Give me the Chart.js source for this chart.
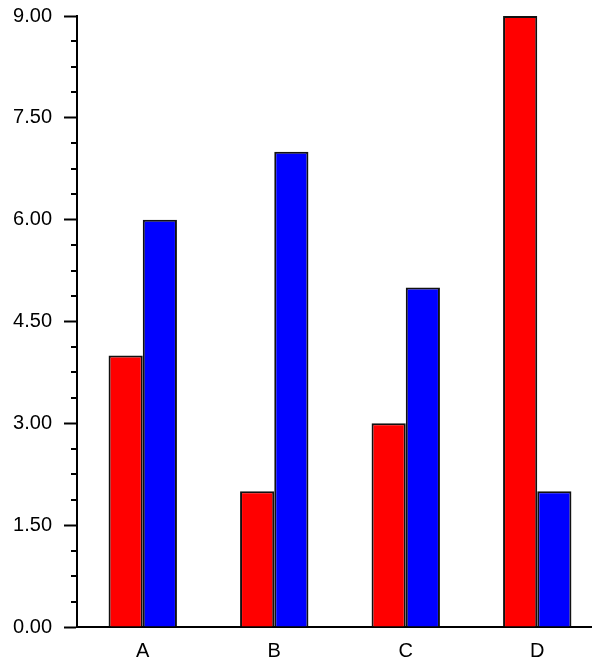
<!DOCTYPE html>
<html>
<head>
<meta charset="utf-8">
<script src="https://cdn.jsdelivr.net/npm/chart.js@4.4.0/dist/chart.umd.min.js"></script>
<style>
  html, body { margin: 0; padding: 0; overflow: hidden; background: #fff; }
  #wrap { width: 604px; height: 658px; }
</style>
</head>
<body>
<div id="wrap"><canvas id="barChart" width="604" height="658"></canvas></div>
<script>
const categories = ['A', 'B', 'C', 'D'];
const redValues = [4, 2, 3, 9];
const blueValues = [6, 7, 5, 2];
const yMin = 0;
const yMax = 9;
const majorStep = 1.5;
const minorStep = 0.375;

// short minor ticks between the labelled ones
const minorTicks = {
  id: 'minorTicks',
  afterDraw(chart) {
    const y = chart.scales.y;
    const ctx = chart.ctx;
    const left = chart.chartArea.left;
    ctx.save();
    ctx.strokeStyle = '#000';
    ctx.lineWidth = 2;
    const n = Math.round((yMax - yMin) / minorStep);
    for (let i = 0; i <= n; i++) {
      if (i % Math.round(majorStep / minorStep) === 0) continue;
      const py = Math.round(y.getPixelForValue(yMin + i * minorStep));
      ctx.beginPath();
      ctx.moveTo(left - 6, py);
      ctx.lineTo(left, py);
      ctx.stroke();
    }
    ctx.restore();
  }
};

const ctx = document.getElementById('barChart').getContext('2d');
new Chart(ctx, {
  type: 'bar',
  data: {
    labels: categories,
    datasets: [
      {
        data: redValues,
        backgroundColor: '#ff0000',
        borderColor: '#111',
        borderWidth: 2,
        categoryPercentage: 0.52,
        barPercentage: 1.0,
      },
      {
        data: blueValues,
        backgroundColor: '#0000ff',
        borderColor: '#111',
        borderWidth: 2,
        categoryPercentage: 0.52,
        barPercentage: 1.0,
      },
    ],
  },
  options: {
    responsive: false,
    animation: false,
    layout: { padding: { top: 16, right: 1, bottom: 0, left: 0 } },
    plugins: {
      legend: { display: false },
      tooltip: { enabled: false },
    },
    scales: {
      x: {
        grid: { display: false, drawTicks: false },
        border: { display: true, color: '#000', width: 2 },
        ticks: {
          color: '#000',
          padding: 12,
          font: { family: 'Liberation Sans, Arial, sans-serif', size: 20 },
        },
        afterFit: (scale) => { scale.height = 31; },
      },
      y: {
        min: yMin,
        max: yMax,
        grid: {
          drawOnChartArea: false,
          tickLength: 13,
          tickWidth: 2,
          tickColor: '#000',
        },
        border: { display: true, color: '#000', width: 2 },
        ticks: {
          stepSize: majorStep,
          color: '#000',
          padding: 12,
          font: { family: 'Liberation Sans, Arial, sans-serif', size: 20 },
          callback: (v) => Number(v).toFixed(2),
        },
        afterFit: (scale) => {
          scale.width = 77;
          scale.paddingTop = 0;
          scale.paddingBottom = 0;
        },
      },
    },
  },
  plugins: [minorTicks],
});
</script>
</body>
</html>
